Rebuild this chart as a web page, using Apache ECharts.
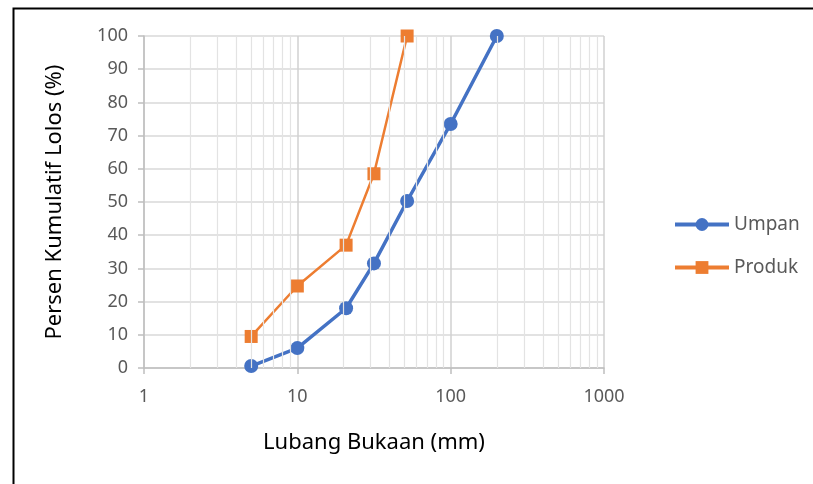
<!DOCTYPE html>
<html>
<head>
<meta charset="utf-8">
<script src="https://cdn.jsdelivr.net/npm/echarts@6/dist/echarts.min.js"></script>
<style>
html,body{margin:0;padding:0;background:#fff;}
#chart{width:813px;height:484px;}
</style>
</head>
<body>
<div id="chart"></div>
<script>
var umpanX = [5, 10, 20.8, 31.6, 52, 100, 200];
var umpanY = [0.6, 6, 18, 31.5, 50.3, 73.5, 100];
var produkX = [5, 10, 20.8, 31.6, 52];
var produkY = [9.5, 24.7, 37, 58.5, 100];
var minorGridX = [2,3,4,5,6,7,8,9,20,30,40,50,60,70,80,90,200,300,400,500,600,700,800,900];

function pairs(xs, ys){ return xs.map(function(x,i){return [x, ys[i]];}); }

var chart = echarts.init(document.getElementById('chart'));
var font = '"Noto Sans", "Open Sans", sans-serif';
chart.setOption({
  animation:false,
  backgroundColor:'#fff',
  graphic:[{type:'rect', left:11, top:6, shape:{width:900, height:600}, style:{fill:'none', stroke:'#000', lineWidth:2}, z:-10}],
  grid:{left:144, right:209, top:36, bottom:116},
  legend:{
    data:['Umpan','Produk'],
    orient:'vertical', left:668, top:210, itemGap:24, itemWidth:54, itemHeight:16,
    lineStyle:{width:4},
    textStyle:{fontSize:19, color:'#595959', fontFamily:font}
  },
  xAxis:{
    type:'log', logBase:10, min:1, max:1000,
    name:'Lubang Bukaan (mm)', nameLocation:'middle', nameGap:64,
    nameTextStyle:{fontSize:22, color:'#000', fontFamily:font},
    axisLine:{show:true, lineStyle:{color:'#bfbfbf', width:1.5}},
    axisTick:{show:true, length:6, lineStyle:{color:'#bfbfbf', width:1.5}},
    axisLabel:{fontSize:18, color:'#595959', margin:20, fontFamily:font, formatter:function(v){return String(Math.round(v));}},
    splitLine:{show:true, lineStyle:{color:'#d0d0d0', width:1.5}}
  },
  yAxis:{
    type:'value', min:0, max:100, interval:10,
    name:'Persen Kumulatif Lolos (%)', nameLocation:'middle', nameGap:78,
    nameTextStyle:{fontSize:22, color:'#000', fontFamily:font},
    axisLine:{show:true, lineStyle:{color:'#bfbfbf', width:1.5}},
    axisTick:{show:true, length:6, lineStyle:{color:'#bfbfbf', width:1.5}},
    axisLabel:{fontSize:18, color:'#595959', margin:16, fontFamily:font},
    splitLine:{show:true, lineStyle:{color:'#d9d9d9', width:1.5}}
  },
  series:[
    {
      name:'minor', type:'line', data:[], silent:true, z:1,
      markLine:{
        silent:true, symbol:'none', label:{show:false}, animation:false,
        lineStyle:{color:'#e3e3e3', type:'solid', width:1.2},
        data:minorGridX.map(function(v){return {xAxis:v};})
      }
    },
    {
      name:'Umpan', type:'line', data:pairs(umpanX, umpanY), z:3,
      symbol:'circle', symbolSize:14,
      lineStyle:{color:'#4472c4', width:3.5},
      itemStyle:{color:'#4472c4'}
    },
    {
      name:'Produk', type:'line', data:pairs(produkX, produkY), z:4,
      symbol:'rect', symbolSize:13,
      lineStyle:{color:'#ed7d31', width:2.5},
      itemStyle:{color:'#ed7d31'}
    }
  ]
});
</script>
</body>
</html>
